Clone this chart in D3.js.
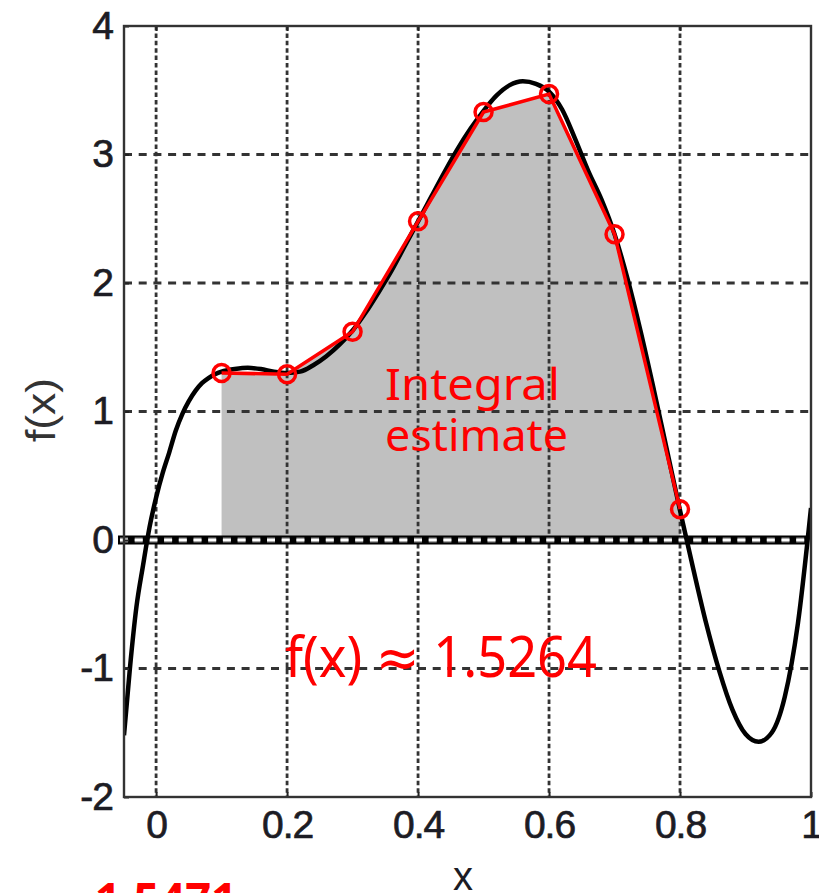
<!DOCTYPE html>
<html>
<head>
<meta charset="utf-8">
<script src="https://cdn.jsdelivr.net/npm/d3@7"></script>
<style>
  html, body { margin: 0; padding: 0; background: #fff; }
  svg { display: block; }
</style>
</head>
<body>
<svg id="chart" width="819" height="893"></svg>
<script>
// Sampled curve f(x)
const curveX = [-0.049, -0.04, -0.03, -0.02, -0.01, 0, 0.01, 0.02, 0.03, 0.04, 0.05, 0.06, 0.07, 0.08, 0.09,
  0.10, 0.12, 0.14, 0.16, 0.18, 0.20, 0.22, 0.24, 0.26, 0.28, 0.30, 0.32, 0.34, 0.36, 0.38, 0.40,
  0.42, 0.44, 0.46, 0.48, 0.50, 0.52, 0.54, 0.56, 0.58, 0.60, 0.62, 0.64, 0.66, 0.68, 0.70,
  0.72, 0.74, 0.76, 0.78, 0.80, 0.82, 0.84, 0.86, 0.88, 0.90, 0.92, 0.94, 0.96, 0.98, 1.00];
const curveY = [-1.52, -1.0, -0.52, -0.2, 0.1, 0.33, 0.52, 0.68, 0.85, 0.98, 1.08, 1.16, 1.22, 1.26, 1.29,
  1.31, 1.33, 1.34, 1.33, 1.31, 1.30, 1.31, 1.36, 1.43, 1.52, 1.63, 1.77, 1.93, 2.10, 2.29, 2.48,
  2.67, 2.86, 3.04, 3.20, 3.34, 3.46, 3.54, 3.57, 3.55, 3.49, 3.35, 3.12, 2.87, 2.65, 2.38,
  2.03, 1.62, 1.17, 0.70, 0.23, -0.22, -0.65, -1.02, -1.32, -1.51, -1.57, -1.50, -1.22, -0.65, 0.25];

// Sample nodes used for the integral estimate
const nodeX = [0.1, 0.2, 0.3, 0.4, 0.5, 0.6, 0.7, 0.8];
const nodeY = [1.30, 1.29, 1.62, 2.48, 3.33, 3.47, 2.38, 0.24];

// Axis ticks
const xTicks = [0, 0.2, 0.4, 0.6, 0.8, 1];
const yTicks = [-2, -1, 0, 1, 2, 3, 4];
const xGrid = [0, 0.2, 0.4, 0.6, 0.8];
const yGrid = [-1, 1, 2, 3];

// Annotation texts
const noteLines = ["Integral", "estimate"];
const approxText = "f(x) \u2248 1.5264";
const bottomText = "1.5471";

const svg = d3.select("#chart");
const L = 124, R = 811, T = 26, B = 797;

const x = d3.scaleLinear().domain([-0.049, 1]).range([L, R]);
const y = d3.scaleLinear().domain([-2, 4]).range([B, T]);

svg.append("defs").append("clipPath").attr("id", "plotclip")
  .append("rect").attr("x", L).attr("y", T).attr("width", R - L).attr("height", B - T);

const curve = curveX.map((v, i) => [v, curveY[i]]);
const nodes = nodeX.map((v, i) => [v, nodeY[i]]);

// Shaded area under the piecewise-linear estimate
const area = d3.area().x(d => x(d[0])).y0(y(0)).y1(d => y(d[1]));
svg.append("path").datum(nodes).attr("d", area).attr("fill", "#c0c0c0");

// Dashed grid
const grid = svg.append("g");
grid.selectAll("line.v").data(xGrid).join("line")
  .attr("x1", d => x(d)).attr("x2", d => x(d)).attr("y1", T).attr("y2", B)
  .attr("stroke", "#333").attr("stroke-width", 2.8).attr("stroke-dasharray", "4.5,2.9");
grid.selectAll("line.h").data(yGrid).join("line")
  .attr("x1", L).attr("x2", R).attr("y1", d => y(d)).attr("y2", d => y(d))
  .attr("stroke", "#333").attr("stroke-width", 2.8).attr("stroke-dasharray", "8,6.7");

// Thick zero line with light dashes inside
svg.append("line").attr("x1", L - 6).attr("x2", R - 3).attr("y1", y(0)).attr("y2", y(0))
  .attr("stroke", "#000").attr("stroke-width", 9);
svg.append("line").attr("x1", L - 4).attr("x2", R - 3).attr("y1", y(0)).attr("y2", y(0))
  .attr("stroke", "#8a8a8a").attr("stroke-width", 5).attr("stroke-dasharray", "8,6.7");
svg.append("line").attr("x1", L - 4).attr("x2", R - 3).attr("y1", y(0)).attr("y2", y(0))
  .attr("stroke", "#fff").attr("stroke-width", 2.6).attr("stroke-dasharray", "8,6.7");

// Function curve
const line = d3.line().x(d => x(d[0])).y(d => y(d[1])).curve(d3.curveMonotoneX);
svg.append("path").datum(curve).attr("d", line).attr("clip-path", "url(#plotclip)")
  .attr("fill", "none").attr("stroke", "#000").attr("stroke-width", 4.5).attr("stroke-linejoin", "round");

// Estimate polyline and node markers
const poly = d3.line().x(d => x(d[0])).y(d => y(d[1]));
svg.append("path").datum(nodes).attr("d", poly)
  .attr("fill", "none").attr("stroke", "#ff0000").attr("stroke-width", 3.5);
svg.selectAll("circle.node").data(nodes).join("circle")
  .attr("cx", d => x(d[0])).attr("cy", d => y(d[1])).attr("r", 8.5)
  .attr("fill", "none").attr("stroke", "#ff0000").attr("stroke-width", 3.5);

// Axes
const tickFont = "'Liberation Sans', Arial, Helvetica, sans-serif";
const xAxis = svg.append("g").attr("transform", `translate(0,${B})`)
  .call(d3.axisBottom(x).tickValues(xTicks).tickFormat(d => String(d))
    .tickSizeInner(-5).tickSizeOuter(0).tickPadding(13));
const yAxis = svg.append("g").attr("transform", `translate(${L},0)`)
  .call(d3.axisLeft(y).tickValues(yTicks).tickFormat(d => String(d))
    .tickSizeInner(-5).tickSizeOuter(0).tickPadding(11));
[xAxis, yAxis].forEach(g => {
  g.select(".domain").remove();
  g.selectAll(".tick line").attr("stroke", "#222").attr("stroke-width", 2);
  g.selectAll(".tick text").attr("fill", "#1c1c24")
    .attr("stroke", "#1c1c24").attr("stroke-width", 0.7)
    .attr("letter-spacing", "-1")
    .style("font-family", tickFont).style("font-size", "39px");
});

// Top ticks
svg.append("g").attr("transform", `translate(0,${T})`)
  .call(d3.axisTop(x).tickValues(xGrid).tickFormat("").tickSizeInner(-5).tickSizeOuter(0))
  .call(g => g.select(".domain").remove())
  .call(g => g.selectAll(".tick line").attr("stroke", "#222").attr("stroke-width", 2));

// Frame
svg.append("rect").attr("x", L).attr("y", T).attr("width", R - L).attr("height", B - T)
  .attr("fill", "none").attr("stroke", "#333").attr("stroke-width", 2.4);

// Axis titles
svg.append("text").attr("x", 463).attr("y", 890).attr("text-anchor", "middle")
  .style("font-family", tickFont).style("font-size", "40px").attr("fill", "#1c1c24").text("x");
svg.append("text").attr("transform", "translate(55,410) rotate(-90)").attr("text-anchor", "middle")
  .style("font-family", tickFont).style("font-size", "40px").attr("fill", "#333")
  .attr("textLength", 64).attr("lengthAdjust", "spacingAndGlyphs").text("f(x)");

// Annotations
const noteFont = "'Comic Sans MS', 'Noto Sans', 'DejaVu Sans', sans-serif";
svg.append("text").attr("x", 385).attr("y", 400)
  .style("font-family", noteFont).style("font-size", "44px").attr("fill", "#ff0000")
  .attr("textLength", 175).attr("lengthAdjust", "spacingAndGlyphs").text(noteLines[0]);
svg.append("text").attr("x", 385).attr("y", 451)
  .style("font-family", noteFont).style("font-size", "44px").attr("fill", "#ff0000")
  .attr("textLength", 183).attr("lengthAdjust", "spacingAndGlyphs").text(noteLines[1]);
svg.append("text").attr("x", 285).attr("y", 677)
  .style("font-family", noteFont).style("font-size", "56px").attr("fill", "#ff0000")
  .attr("textLength", 312).attr("lengthAdjust", "spacingAndGlyphs").text(approxText);
svg.append("text").attr("x", 95).attr("y", 916)
  .style("font-family", noteFont).style("font-size", "46px").style("font-weight", "bold").attr("fill", "#ff0000")
  .attr("textLength", 142).attr("lengthAdjust", "spacingAndGlyphs").text(bottomText);
</script>
</body>
</html>
